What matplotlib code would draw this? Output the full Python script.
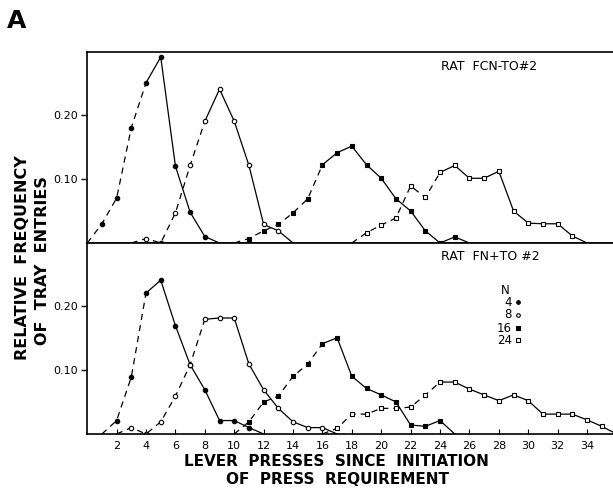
import matplotlib
matplotlib.use("Agg")
import matplotlib.pyplot as plt

# ---------------- data ----------------
x_ticks = list(range(2, 36, 2))
y_ticks = [0.10, 0.20]
y_tick_labels = ["0.10", "0.20"]
legend_n = ["4", "8", "16", "24"]

# top panel: RAT FCN-TO #2
top_n4_x = list(range(0, 10))
top_n4_y = [0, 0.03, 0.07, 0.18, 0.25, 0.29, 0.12, 0.048, 0.01, 0]
top_n8_x = list(range(3, 15))
top_n8_y = [0, 0.007, 0, 0.047, 0.121, 0.19, 0.24, 0.19, 0.121, 0.029, 0.019, 0]
top_n16_x = list(range(10, 27))
top_n16_y = [0, 0.007, 0.019, 0.029, 0.047, 0.069, 0.122, 0.141, 0.151, 0.122,
             0.101, 0.069, 0.05, 0.019, 0, 0.0095, 0]
top_n24_x = list(range(18, 35))
top_n24_y = [0, 0.016, 0.028, 0.039, 0.089, 0.071, 0.11, 0.121, 0.101, 0.101,
             0.112, 0.05, 0.031, 0.03, 0.03, 0.011, 0]

# bottom panel: RAT FN+TO #2
bot_n4_x = list(range(1, 13))
bot_n4_y = [0, 0.021, 0.089, 0.22, 0.24, 0.169, 0.108, 0.069, 0.021, 0.021, 0.010, 0]
bot_n8_x = list(range(2, 18))
bot_n8_y = [0, 0.01, 0, 0.019, 0.059, 0.108, 0.179, 0.181, 0.181, 0.109, 0.069,
            0.04, 0.019, 0.01, 0.01, 0]
bot_n16_x = list(range(10, 26))
bot_n16_y = [0, 0.019, 0.05, 0.059, 0.09, 0.109, 0.141, 0.15, 0.09, 0.071, 0.061,
             0.05, 0.014, 0.012, 0.021, 0]
bot_n24_x = list(range(16, 37))
bot_n24_y = [0, 0.009, 0.031, 0.031, 0.04, 0.04, 0.042, 0.061, 0.081, 0.081, 0.07,
             0.061, 0.052, 0.061, 0.052, 0.031, 0.031, 0.031, 0.022, 0.012, 0]

# ---------------- figure ----------------
W, H = 613, 492
fig = plt.figure(figsize=(W / 100, H / 100), dpi=100)
plt.rcParams['font.family'] = ['DejaVu Sans']


def fx(px):
    return px / W


def fy(py):
    return 1 - py / H


left_px, right_px = 86.5, 616
XMIN = -0.05
XMAX = XMIN + (right_px - left_px) / 14.7
YMAX = 0.298

ax_top = fig.add_axes([fx(left_px), fy(243), (right_px - left_px) / W, (243 - 52) / H])
ax_bot = fig.add_axes([fx(left_px), fy(434), (right_px - left_px) / W, (434 - 243) / H])

LW = 0.9
DASH = (0, (5, 4))
markers = {
    4: dict(marker='o', mfc='black', mec='black'),
    8: dict(marker='o', mfc='white', mec='black'),
    16: dict(marker='s', mfc='black', mec='black'),
    24: dict(marker='s', mfc='white', mec='black'),
}


def draw_series(ax, xs, ys, n):
    xd = [x for x in xs if x <= n]
    yd = [y for x, y in zip(xs, ys) if x <= n]
    xs_ = [x for x in xs if x >= n]
    ys_ = [y for x, y in zip(xs, ys) if x >= n]
    ax.plot(xd, yd, color='black', lw=LW, linestyle=DASH, dash_capstyle='butt')
    ax.plot(xs_, ys_, color='black', lw=LW, linestyle='-')
    ax.plot(xs[1:-1], ys[1:-1], linestyle='none', ms=3.2, mew=0.8, **markers[n])


draw_series(ax_top, top_n4_x, top_n4_y, 4)
draw_series(ax_top, top_n8_x, top_n8_y, 8)
draw_series(ax_top, top_n16_x, top_n16_y, 16)
draw_series(ax_top, top_n24_x, top_n24_y, 24)

draw_series(ax_bot, bot_n4_x, bot_n4_y, 4)
draw_series(ax_bot, bot_n8_x, bot_n8_y, 8)
draw_series(ax_bot, bot_n16_x, bot_n16_y, 16)
draw_series(ax_bot, bot_n24_x, bot_n24_y, 24)

for ax in (ax_top, ax_bot):
    ax.set_xlim(XMIN, XMAX)
    ax.set_ylim(0, YMAX)
    ax.spines['right'].set_visible(False)
    for s in ('left', 'top', 'bottom'):
        ax.spines[s].set_linewidth(1.2)
    ax.set_yticks(y_ticks)
    ax.set_yticklabels(y_tick_labels)
    ax.tick_params(axis='y', direction='out', length=4, width=1, labelsize=8, pad=2)
    ax.set_xticks(x_ticks)

ax_top.tick_params(axis='x', direction='out', length=3, width=0.8, labelbottom=False)
ax_bot.tick_params(axis='x', direction='in', length=3.5, width=0.8, labelsize=8, pad=5)

# panel titles
fig.text(fx(441), fy(66), "RAT  FCN-TO#2", fontsize=9, ha='left', va='center')
fig.text(fx(441), fy(257), "RAT  FN+TO #2", fontsize=9, ha='left', va='center')

# legend text
fig.text(fx(505), fy(290), "N", fontsize=8.5, ha='center', va='center')
leg_y = [302, 315, 328, 340]
leg_m = [4, 8, 16, 24]
for lab, yy, n in zip(legend_n, leg_y, leg_m):
    fig.text(fx(512), fy(yy), lab, fontsize=8.5, ha='right', va='center')
    fig.lines.append(matplotlib.lines.Line2D([fx(518)], [fy(yy)], transform=fig.transFigure,
                                             linestyle='none', ms=2.6, mew=0.8, **markers[n]))

# axis labels
fig.text(fx(23), fy(258), "RELATIVE  FREQUENCY", rotation=90, fontsize=11.5,
         fontweight='bold', ha='center', va='center')
fig.text(fx(43), fy(261), "OF  TRAY  ENTRIES", rotation=90, fontsize=11.5,
         fontweight='bold', ha='center', va='center')
fig.text(fx(336), fy(462), "LEVER  PRESSES  SINCE  INITIATION", fontsize=11,
         fontweight='bold', ha='center', va='center')
fig.text(fx(338), fy(480), "OF  PRESS  REQUIREMENT", fontsize=11,
         fontweight='bold', ha='center', va='center')

# panel letter
fig.text(fx(7), fy(28), "A", fontsize=18, fontweight='bold', ha='left', va='baseline')

fig.savefig("out.png", dpi=100)
